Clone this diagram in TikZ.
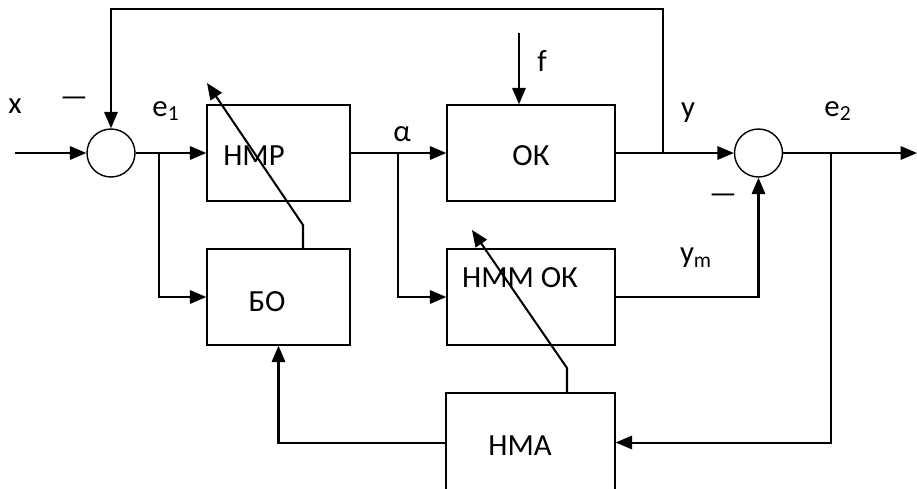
\documentclass[tikz,border=0pt]{standalone}
\usepackage{fontspec}
\setmainfont{Carlito}
\usetikzlibrary{arrows.meta}
\begin{document}
\begin{tikzpicture}[x=0.02cm,y=-0.02cm,
  block/.style={draw, line width=0.8pt, inner sep=0pt, minimum height=1.92cm},
  sumc/.style={circle, draw, line width=0.8pt, minimum size=0.96cm, inner sep=0pt},
  lbl/.style={font=\fontsize{17.5}{21}\selectfont, inner sep=0pt},
  conn/.style={line width=1.15pt},
  arr/.style={conn, -{Triangle[length=0.33cm,width=0.27cm]}}]
\useasboundingbox (0,0) rectangle (917,488);
% blocks
\node[block, minimum width=2.86cm] (hmp) at (278.5,153) {};
\node[block, minimum width=2.86cm] (bo) at (278.5,297) {};
\node[block, minimum width=3.36cm] (ok) at (531,153) {};
\node[block, minimum width=3.36cm] (nmm) at (531,297) {};
\node[block, minimum width=3.38cm, minimum height=1.98cm] (nma) at (530.5,442.5) {};
% sums
\node[sumc] (s1) at (111,153) {};
\node[sumc] (s2) at (758.5,153) {};
% block texts
\node[lbl] (thmp) at (254,156) {НМР};
\node[lbl] (tok) at (531,156) {ОК};
\node[lbl] (tbo) at (267,302) {БО};
\node[lbl] (tnmm) at (520,278) {НММ ОК};
\node[lbl] (tnma) at (520,446) {НМА};
% labels
\node[lbl] (lx) at (15,106) {x};
\node[lbl] (lm1) at (74,102) {—};
\node[lbl] (le1) at (166,111) {e\textsubscript{1}};
\node[lbl] (lal) at (402,134) {α};
\node[lbl] (lf) at (542,61) {f};
\node[lbl] (ly) at (688,113) {y};
\node[lbl] (le2) at (838,111) {e\textsubscript{2}};
\node[lbl] (lm2) at (723,199) {—};
\node[lbl] (lym) at (696,258) {y\textsubscript{m}};
% coordinates
\coordinate (in) at (15,153);
\coordinate (out) at (917,153);
\coordinate (b1) at (159,153);
\coordinate (b2) at (398,153);
\coordinate (b3) at (831,153);
\coordinate (jy) at (663,153);
\coordinate (top) at (400,9);
\coordinate (fin) at (519,33);
\coordinate (d1) at (303,225);
\coordinate (d1t) at (207,83);
\coordinate (d2) at (567,368);
\coordinate (d2t) at (472,230);
% connectors
\draw[arr] (in) -- (s1.west);
\draw[arr] (s1.east) -- (hmp.west);
\draw[arr] (b1) |- (bo.west);
\draw[arr] (hmp.east) -- (ok.west);
\draw[arr] (b2) |- (nmm.west);
\draw[arr] (fin) -- (fin |- ok.north);
\draw[arr] (ok.east) -- (s2.west);
\draw[arr] (jy) |- (top) -| (s1.north);
\draw[arr] (s2.east) -- (out);
\draw[arr] (b3) |- (nma.east);
\draw[arr] (nmm.east) -| (s2.south);
\draw[arr] (nma.west) -| (bo.south);
\draw[arr] (bo.north -| d1) -- (d1) -- (d1t);
\draw[arr] (nma.north -| d2) -- (d2) -- (d2t);
\end{tikzpicture}
\end{document}
